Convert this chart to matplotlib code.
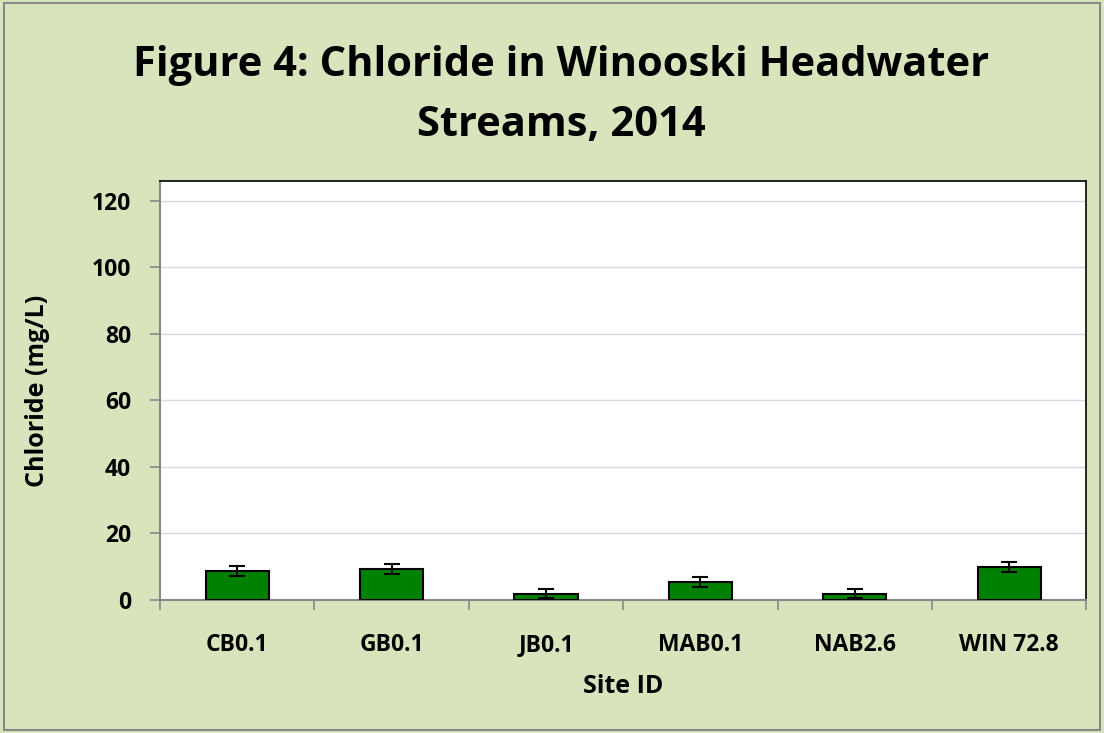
import matplotlib.pyplot as plt
import numpy as np

# Chloride per site (mg/L)
sites = ["CB0.1", "GB0.1", "JB0.1", "MAB0.1", "NAB2.6", "WIN 72.8"]
chloride = [8.8, 9.4, 1.9, 5.4, 1.9, 9.9]
errors = [1.5, 1.5, 1.4, 1.5, 1.4, 1.4]
yticks = [0, 20, 40, 60, 80, 100, 120]

bg = "#D8E4BC"
plt.rcParams['font.family'] = ['Open Sans', 'DejaVu Sans']

fig = plt.figure(figsize=(11.04, 7.33), dpi=100, facecolor=bg)
ax = fig.add_axes([0.145, 0.1815, 0.839, 0.5715])

x = np.arange(len(sites))
ax.bar(x, chloride, width=0.41, color="#008000", edgecolor="black", linewidth=1.5,
       yerr=errors, capsize=6, error_kw=dict(elinewidth=1.5, capthick=1.5, ecolor="black"),
       zorder=3)

ax.set_xlim(-0.5, len(sites) - 0.5)
ax.set_ylim(0, 126)
ax.set_yticks(yticks)
ax.set_yticklabels([str(t) for t in yticks], fontsize=16.5, fontweight="bold")
ax.grid(axis="y", color="#D9D9D9", linewidth=1, zorder=0)

# category labels at centres, tick marks at boundaries
ax.set_xticks(x)
ax.set_xticklabels(sites, fontsize=16.5, fontweight="bold")
ax.tick_params(axis="x", length=0, pad=24)
ax.set_xticks(np.arange(len(sites) + 1) - 0.5, minor=True)
ax.tick_params(axis="x", which="minor", length=7, color="#888888", width=1.2)
ax.tick_params(axis="y", length=7, color="#888888", width=1.2, direction="out", pad=14)

for side in ["left", "bottom"]:
    ax.spines[side].set_color("#888888")
    ax.spines[side].set_linewidth(1.5)
for side in ["top", "right"]:
    ax.spines[side].set_color("black")
    ax.spines[side].set_linewidth(1.2)

ax.set_xlabel("Site ID", fontsize=18, fontweight="bold", labelpad=12)
ax.set_ylabel("Chloride (mg/L)", fontsize=18, fontweight="bold", labelpad=30)

fig.text(0.508, 0.870, "Figure 4: Chloride in Winooski Headwater\nStreams, 2014",
         ha="center", va="center", fontsize=30, fontweight="bold", linespacing=1.6)

# outer chart border
fig.patches.append(plt.Rectangle((0.004, 0.004), 0.992, 0.992, transform=fig.transFigure,
                                 fill=False, edgecolor="#888888", linewidth=1.5))

fig.savefig("out.png", dpi=100, facecolor=bg)
